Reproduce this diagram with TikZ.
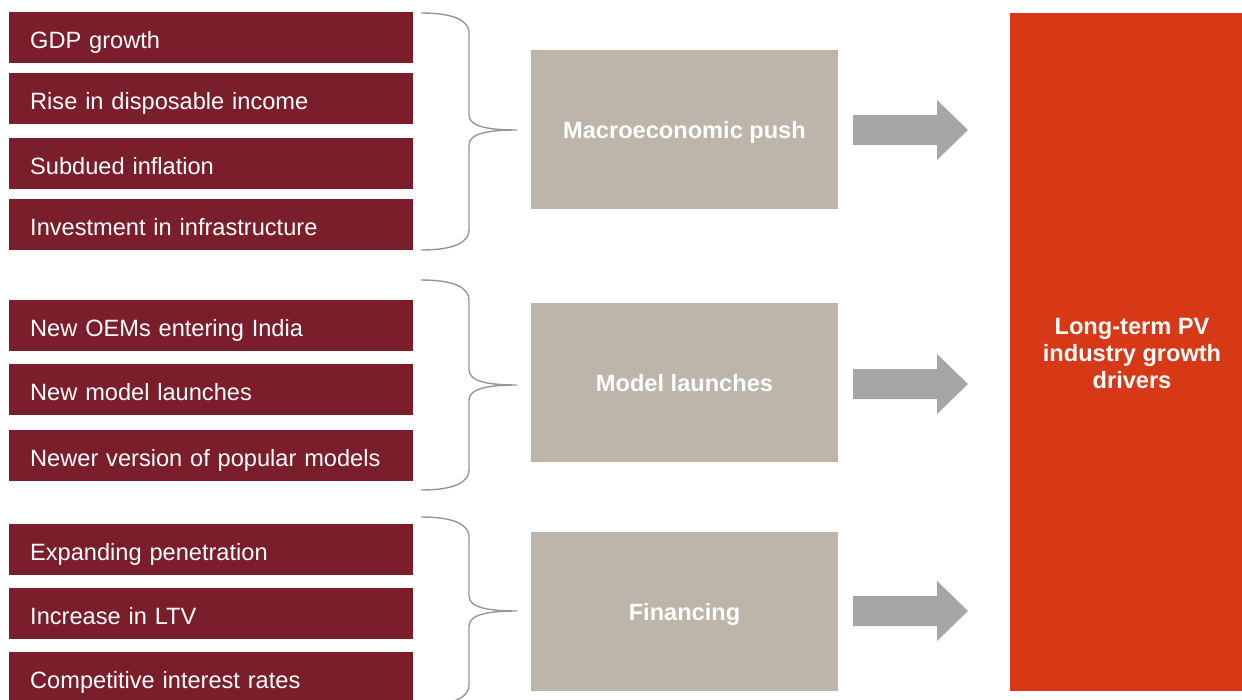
\documentclass[tikz,border=0pt]{standalone}
\usepackage{fontspec}
\setmainfont{Liberation Sans}
\begin{document}
\begin{tikzpicture}[x=1pt,y=-1pt,
  factor/.style={fill=factorred,text=white,minimum width=404pt,minimum height=51pt,
    text width=362pt,inner xsep=21pt,inner ysep=0pt,align=left,anchor=west,
    text height=22pt,text depth=0pt,
    font=\fontsize{23.6}{28}\selectfont},
  group/.style={fill=groupgrey,text=white,minimum width=307pt,minimum height=159pt,
    inner sep=0pt,text height=18pt,text depth=0pt,
    font=\bfseries\fontsize{23.6}{28}\selectfont},
  goal/.style={fill=goalorange,text=white,minimum width=245pt,minimum height=678pt,
    inner sep=0pt,anchor=north west},
  bracket/.style={draw=bracegrey,line width=1.4pt},
  push/.style={fill=arrowgrey}]
\definecolor{factorred}{RGB}{123,30,43}
\definecolor{groupgrey}{RGB}{189,181,169}
\definecolor{goalorange}{RGB}{215,56,22}
\definecolor{bracegrey}{RGB}{150,150,150}
\definecolor{arrowgrey}{RGB}{166,166,166}
\clip (0,0) rectangle (1242,699);
\useasboundingbox (0,0) rectangle (1242,699);

% factor boxes
\node[factor] (f1) at (9,37.5) {GDP growth};
\node[factor] (f2) at (9,98) {Rise in disposable income};
\node[factor] (f3) at (9,163.5) {Subdued inflation};
\node[factor] (f4) at (9,224.5) {Investment in infrastructure};
\node[factor] (f5) at (9,325.5) {New OEMs entering India};
\node[factor] (f6) at (9,389.5) {New model launches};
\node[factor] (f7) at (9,455.5) {Newer version of popular models};
\node[factor] (f8) at (9,549.5) {Expanding penetration};
\node[factor] (f9) at (9,613.5) {Increase in LTV};
\node[factor] (f10) at (9,677.5) {Competitive interest rates};

% group boxes
\node[group] (g1) at (684.5,129.5) {Macroeconomic push};
\node[group] (g2) at (684.5,382.5) {Model launches};
\node[group] (g3) at (684.5,611.5) {Financing};

% target box
\node[goal] (t) at (1010,13) {};
\node[text=white,font=\bfseries\fontsize{23.6}{27}\selectfont,align=center] (tl) at (1132,353)
  {Long-term PV\\industry growth\\drivers};

% curly brackets: top, tip, bottom
\newcommand\curlybracket[3]{%
  \draw[bracket] (421,#1) .. controls (455,#1) and (469,#1+8) .. (469,#1+20)
    -- (469,#2-15) .. controls (469,#2-3) and (490,#2) .. (517,#2)
    .. controls (490,#2) and (469,#2+3) .. (469,#2+15)
    -- (469,#3-20) .. controls (469,#3-8) and (455,#3) .. (421,#3);}
\curlybracket{13}{130}{250}
\curlybracket{280}{385}{490}
\curlybracket{517}{611}{705}

% block arrows
\newcommand\blockarrow[1]{%
  \fill[push] (853,#1-15) -- (937,#1-15) -- (937,#1-30) -- (968,#1)
    -- (937,#1+30) -- (937,#1+15) -- (853,#1+15) -- cycle;}
\blockarrow{130}
\blockarrow{384}
\blockarrow{611}
\end{tikzpicture}
\end{document}
